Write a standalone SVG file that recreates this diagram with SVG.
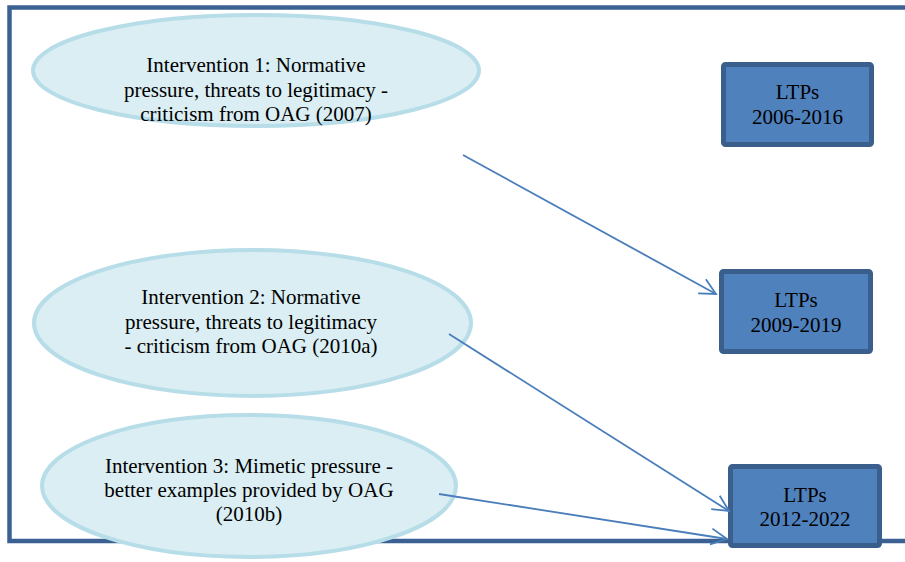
<svg xmlns="http://www.w3.org/2000/svg" width="905" height="562" viewBox="0 0 905 562">
<style>
.frame{fill:none;stroke:#3B6193;stroke-width:4.5}
.ell{fill:#DAEEF3;stroke:#B7DDE8;stroke-width:4}
.box{fill:#4F81BD;stroke:#3A5F8C;stroke-width:5}
.t{font-family:"Liberation Serif","Times New Roman",serif;font-size:21px;fill:#000;text-anchor:middle}
.conn{fill:none;stroke:#4A7EBB;stroke-width:1.8}
</style>
<defs>
<marker id="arr" viewBox="0 0 20 20" refX="18" refY="10" markerWidth="20" markerHeight="20" markerUnits="userSpaceOnUse" orient="auto">
<path d="M2,2 L18,10 L2,18" fill="none" stroke="#4A7EBB" stroke-width="1.8"/>
</marker>
</defs>
<rect class="frame" x="9.5" y="7.5" width="910" height="533.5"/>
<g id="intervention1">
<ellipse class="ell" cx="256" cy="70.5" rx="223" ry="55.5"/>
<text class="t" x="256" y="72">Intervention 1: Normative</text>
<text class="t" x="256" y="96.5">pressure, threats to legitimacy -</text>
<text class="t" x="256" y="121">criticism from OAG (2007)</text>
</g>
<g id="intervention2">
<ellipse class="ell" cx="252.5" cy="323" rx="218.5" ry="73"/>
<text class="t" x="251" y="304">Intervention 2: Normative</text>
<text class="t" x="251" y="329">pressure, threats to legitimacy</text>
<text class="t" x="251" y="353">- criticism from OAG (2010a)</text>
</g>
<g id="intervention3">
<ellipse class="ell" cx="249" cy="486" rx="207" ry="71"/>
<text class="t" x="249" y="473">Intervention 3: Mimetic pressure -</text>
<text class="t" x="249" y="497">better examples provided by OAG</text>
<text class="t" x="249" y="521">(2010b)</text>
</g>
<g id="ltp1">
<rect class="box" x="723.5" y="64.5" width="148" height="80" rx="2"/>
<text class="t" x="797.5" y="99">LTPs</text>
<text class="t" x="797.5" y="124">2006-2016</text>
</g>
<g id="ltp2">
<rect class="box" x="721.5" y="271.5" width="149" height="80" rx="2"/>
<text class="t" x="796" y="307">LTPs</text>
<text class="t" x="796" y="332">2009-2019</text>
</g>
<g id="ltp3">
<rect class="box" x="730.5" y="466.5" width="149" height="79" rx="2"/>
<text class="t" x="805" y="502">LTPs</text>
<text class="t" x="805" y="526">2012-2022</text>
</g>
<g id="connectors">
<line class="conn" x1="463" y1="155" x2="716" y2="294" marker-end="url(#arr)"/>
<line class="conn" x1="449" y1="334" x2="729" y2="511" marker-end="url(#arr)"/>
<line class="conn" x1="439" y1="494" x2="727" y2="539" marker-end="url(#arr)"/>
</g>
</svg>
